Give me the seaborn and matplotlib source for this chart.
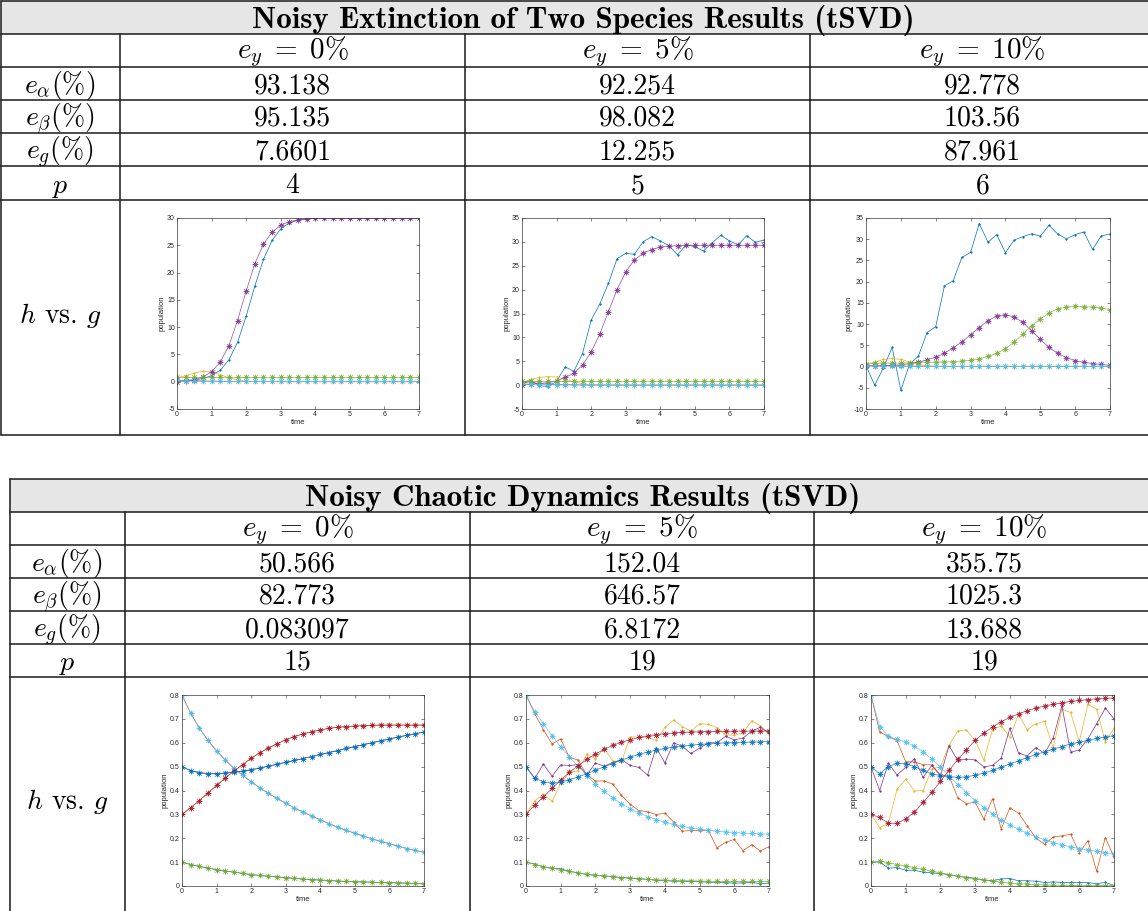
import matplotlib
matplotlib.use("Agg")
import matplotlib.pyplot as plt
import seaborn as sns
from matplotlib.patches import Rectangle

sns.set_theme(style="white")
plt.rcParams["mathtext.fontset"] = "cm"
plt.rcParams["axes.unicode_minus"] = False
plt.rcParams["font.family"] = ["Liberation Sans", "DejaVu Sans"]

# ---------------- data ----------------
t = [0.0, 0.25, 0.5, 0.75, 1.0, 1.25, 1.5, 1.75, 2.0, 2.25, 2.5, 2.75, 3.0, 3.25, 3.5,
     3.75, 4.0, 4.25, 4.5, 4.75, 5.0, 5.25, 5.5, 5.75, 6.0, 6.25, 6.5, 6.75, 7.0]

titles = ["Noisy Extinction of Two Species Results (tSVD)",
          "Noisy Chaotic Dynamics Results (tSVD)"]
noise_labels = [r"$e_y \;=\; 0\%$", r"$e_y \;=\; 5\%$", r"$e_y \;=\; 10\%$"]
row_labels = [r"$e_\alpha(\%)$", r"$e_\beta(\%)$", r"$e_g(\%)$", r"$p$"]
plot_row_label = r"$h$ vs. $g$"
ext_values = [["93.138", "92.254", "92.778"],
              ["95.135", "98.082", "103.56"],
              ["7.6601", "12.255", "87.961"],
              ["4", "5", "6"]]
chaos_values = [["50.566", "152.04", "355.75"],
                ["82.773", "646.57", "1025.3"],
                ["0.083097", "6.8172", "13.688"],
                ["15", "19", "19"]]

# Extinction, e_y = 0%
ext0_h1 = [0.1, 0.2, 0.3, 0.6, 1.1, 2.1, 4.0, 7.2, 12.0, 17.5, 22.4, 25.9, 28.0, 29.1, 29.6,
           29.85, 29.95, 30, 30, 30, 30, 30, 30, 30, 30, 30, 30, 30, 30]
ext0_h2 = [0.3, 0.25, 0.2, 0.15, 0.11, 0.08, 0.06, 0.04, 0.03, 0.02, 0.015, 0.01, 0.01, 0, 0,
           0, 0, 0, 0, 0, 0, 0, 0, 0, 0, 0, 0, 0, 0]
ext0_h3 = [0.7, 1.1, 1.6, 1.9, 1.8, 1.3, 0.7, 0.3, 0.1, 0.03, 0.01, 0, 0, 0, 0,
           0, 0, 0, 0, 0, 0, 0, 0, 0, 0, 0, 0, 0, 0]
ext0_g1 = [0.0, 0.2, 0.4, 0.9, 1.8, 3.6, 6.6, 11.2, 16.6, 21.6, 25.2, 27.4, 28.7, 29.3, 29.7,
           29.85, 29.95, 30, 30, 30, 30, 30, 30, 30, 30, 30, 30, 30, 30]
ext0_g2 = [0.8, 0.8, 0.8, 0.8, 0.8, 0.8, 0.8, 0.8, 0.8, 0.8, 0.8, 0.8, 0.8, 0.8, 0.8,
           0.8, 0.8, 0.8, 0.8, 0.8, 0.8, 0.8, 0.8, 0.8, 0.8, 0.8, 0.8, 0.8, 0.8]
ext0_g3 = [0.3, 0.15, 0.1, 0.08, 0.06, 0.05, 0.05, 0.05, 0.05, 0.05, 0.05, 0.05, 0.05, 0.05, 0.05,
           0.05, 0.05, 0.05, 0.05, 0.05, 0.05, 0.05, 0.05, 0.05, 0.05, 0.05, 0.05, 0.05, 0.05]

# Extinction, e_y = 5%
ext5_h1 = [0.3, 1.0, -0.1, -0.3, 0.8, 3.8, 2.9, 6.6, 13.6, 17.0, 21.3, 26.5, 27.6, 27.4, 30.0,
           31.1, 30.2, 29.2, 27.3, 29.4, 29.0, 28.1, 29.8, 31.4, 30.2, 29.4, 31.3, 29.9, 30.4]
ext5_h2 = [0.4, 0.7, 0.3, 0.2, 0.15, 0.1, 0.06, 0.04, 0.02, 0.01, 0, 0, 0, 0, 0,
           0, 0, 0, 0, 0, 0, 0, 0, 0, 0, 0, 0, 0, 0]
ext5_h3 = [0.5, 1.2, 1.6, 1.8, 1.7, 1.2, 0.7, 0.3, 0.1, 0.03, 0, 0, 0, 0, 0,
           0, 0, 0, 0, 0, 0, 0, 0, 0, 0, 0, 0, 0, 0]
ext5_g1 = [0.1, 0.2, 0.35, 0.5, 0.9, 1.6, 2.5, 4.2, 6.9, 10.7, 15.4, 20.0, 23.7, 26.2, 27.6,
           28.4, 28.9, 29.1, 29.2, 29.3, 29.3, 29.3, 29.3, 29.3, 29.3, 29.3, 29.3, 29.3, 29.3]
ext5_g2 = [0.9, 0.9, 0.9, 0.9, 0.9, 0.9, 0.9, 0.9, 0.9, 0.9, 0.9, 0.9, 0.9, 0.9, 0.9,
           0.9, 0.9, 0.9, 0.9, 0.9, 0.9, 0.9, 0.9, 0.9, 0.9, 0.9, 0.9, 0.9, 0.9]
ext5_g3 = [0.3, 0.2, 0.1, 0.05, 0.05, 0.05, 0.05, 0.05, 0.05, 0.05, 0.05, 0.05, 0.05, 0.05, 0.05,
           0.05, 0.05, 0.05, 0.05, 0.05, 0.05, 0.05, 0.05, 0.05, 0.05, 0.05, 0.05, 0.05, 0.05]

# Extinction, e_y = 10%
ext10_h1 = [0.2, -4.4, -0.3, 4.5, -5.6, 0.6, 2.4, 8.0, 9.4, 19.0, 20.2, 25.7, 26.9, 33.7, 29.3,
            31.1, 26.8, 29.8, 30.6, 31.3, 30.7, 33.3, 31.2, 30.1, 31.1, 31.7, 27.6, 30.8, 31.2]
ext10_h2 = [0.3, 0.25, 0.2, 0.15, 0.1, 0.07, 0.05, 0.03, 0.02, 0.01, 0, 0, 0, 0, 0,
            0, 0, 0, 0, 0, 0, 0, 0, 0, 0, 0, 0, 0, 0]
ext10_h3 = [0.6, 1.0, 1.7, 1.9, 1.7, 1.1, 0.5, 0.2, 0.05, 0, 0, 0, 0, 0, 0,
            0, 0, 0, 0, 0, 0, 0, 0, 0, 0, 0, 0, 0, 0]
ext10_g1 = [0.1, 0.15, 0.2, 0.3, 0.4, 0.7, 1.0, 1.6, 2.2, 3.1, 4.4, 5.8, 7.5, 9.2, 10.8,
            11.9, 12.2, 11.7, 10.4, 8.4, 6.4, 4.5, 3.1, 2.1, 1.4, 1.0, 0.7, 0.5, 0.3]
ext10_g2 = [0.7, 0.75, 0.8, 0.8, 0.85, 0.9, 0.95, 1.0, 1.05, 1.1, 1.15, 1.3, 1.5, 1.8, 2.4,
            3.1, 4.2, 5.8, 7.6, 9.6, 11.2, 12.6, 13.6, 14.0, 14.2, 14.1, 14.0, 13.8, 13.4]
ext10_g3 = [0.2, 0.15, 0.1, 0.1, 0.1, 0.1, 0.1, 0.1, 0.1, 0.1, 0.1, 0.1, 0.1, 0.1, 0.1,
            0.1, 0.1, 0.1, 0.1, 0.1, 0.1, 0.1, 0.1, 0.1, 0.1, 0.1, 0.1, 0.1, 0.1]

# Chaotic dynamics, e_y = 0%
ch0_g1 = [0.1, 0.09, 0.082, 0.075, 0.069, 0.063, 0.058, 0.053, 0.048, 0.044, 0.041, 0.038, 0.035, 0.032, 0.029,
          0.027, 0.025, 0.023, 0.021, 0.019, 0.018, 0.017, 0.016, 0.015, 0.014, 0.013, 0.012, 0.011, 0.01]
ch0_g2 = [0.8, 0.723, 0.662, 0.61, 0.566, 0.528, 0.493, 0.464, 0.437, 0.411, 0.388, 0.367, 0.347, 0.327, 0.31,
          0.293, 0.277, 0.261, 0.246, 0.233, 0.221, 0.209, 0.197, 0.187, 0.177, 0.167, 0.157, 0.149, 0.141]
ch0_g3 = [0.3, 0.328, 0.358, 0.39, 0.421, 0.452, 0.481, 0.508, 0.535, 0.558, 0.578, 0.596, 0.612, 0.626, 0.637,
          0.646, 0.654, 0.66, 0.665, 0.668, 0.67, 0.672, 0.673, 0.674, 0.674, 0.674, 0.674, 0.674, 0.674]
ch0_g4 = [0.5, 0.483, 0.475, 0.471, 0.47, 0.473, 0.477, 0.481, 0.487, 0.494, 0.502, 0.51, 0.518, 0.526, 0.534,
          0.542, 0.551, 0.559, 0.567, 0.576, 0.584, 0.592, 0.6, 0.608, 0.616, 0.624, 0.631, 0.638, 0.645]
ch0_h1 = [0.1, 0.09, 0.082, 0.075, 0.069, 0.063, 0.058, 0.053, 0.048, 0.044, 0.041, 0.038, 0.035, 0.032, 0.029,
          0.027, 0.025, 0.023, 0.021, 0.019, 0.018, 0.017, 0.016, 0.015, 0.014, 0.013, 0.012, 0.011, 0.01]
ch0_h2 = [0.8, 0.723, 0.662, 0.61, 0.566, 0.528, 0.493, 0.464, 0.437, 0.411, 0.388, 0.367, 0.347, 0.327, 0.31,
          0.293, 0.277, 0.261, 0.246, 0.233, 0.221, 0.209, 0.197, 0.187, 0.177, 0.167, 0.157, 0.149, 0.141]
ch0_h3 = [0.3, 0.328, 0.358, 0.39, 0.421, 0.452, 0.481, 0.508, 0.535, 0.558, 0.578, 0.596, 0.612, 0.626, 0.637,
          0.646, 0.654, 0.66, 0.665, 0.668, 0.67, 0.672, 0.673, 0.674, 0.674, 0.674, 0.674, 0.674, 0.674]
ch0_h4 = [0.5, 0.483, 0.475, 0.471, 0.47, 0.473, 0.477, 0.481, 0.487, 0.494, 0.502, 0.51, 0.518, 0.526, 0.534,
          0.542, 0.551, 0.559, 0.567, 0.576, 0.584, 0.592, 0.6, 0.608, 0.616, 0.624, 0.631, 0.638, 0.645]

# Chaotic dynamics, e_y = 5%
ch5_h1 = [0.1, 0.092, 0.08, 0.075, 0.072, 0.062, 0.055, 0.048, 0.044, 0.042, 0.04, 0.035, 0.034, 0.031, 0.028,
          0.024, 0.022, 0.02, 0.02, 0.019, 0.018, 0.016, 0.015, 0.014, 0.012, 0.013, 0.015, 0.01, 0.012]
ch5_h2 = [0.8, 0.722, 0.655, 0.595, 0.616, 0.538, 0.528, 0.465, 0.44, 0.44, 0.427, 0.38, 0.342, 0.316, 0.311,
          0.299, 0.305, 0.268, 0.23, 0.232, 0.232, 0.234, 0.16, 0.183, 0.195, 0.148, 0.173, 0.147, 0.165]
ch5_h3 = [0.3, 0.357, 0.385, 0.355, 0.43, 0.475, 0.483, 0.552, 0.532, 0.577, 0.524, 0.52, 0.625, 0.623, 0.622,
          0.61, 0.664, 0.695, 0.668, 0.648, 0.68, 0.677, 0.663, 0.632, 0.632, 0.64, 0.692, 0.672, 0.635]
ch5_h4 = [0.5, 0.45, 0.511, 0.46, 0.507, 0.505, 0.508, 0.465, 0.515, 0.502, 0.517, 0.53, 0.505, 0.497, 0.464,
          0.58, 0.515, 0.6, 0.585, 0.555, 0.577, 0.6, 0.6, 0.627, 0.612, 0.62, 0.648, 0.665, 0.64]
ch5_g1 = [0.1, 0.09, 0.081, 0.074, 0.067, 0.061, 0.055, 0.05, 0.046, 0.042, 0.038, 0.035, 0.032, 0.03, 0.028,
          0.026, 0.025, 0.024, 0.023, 0.022, 0.021, 0.02, 0.02, 0.019, 0.019, 0.019, 0.019, 0.019, 0.019]
ch5_g2 = [0.8, 0.73, 0.68, 0.63, 0.583, 0.54, 0.502, 0.462, 0.426, 0.396, 0.368, 0.344, 0.324, 0.306, 0.291,
          0.278, 0.267, 0.258, 0.25, 0.243, 0.238, 0.234, 0.23, 0.227, 0.224, 0.222, 0.22, 0.218, 0.217]
ch5_g3 = [0.3, 0.338, 0.373, 0.409, 0.444, 0.476, 0.504, 0.53, 0.553, 0.572, 0.589, 0.602, 0.613, 0.622, 0.629,
          0.634, 0.638, 0.641, 0.643, 0.645, 0.646, 0.647, 0.648, 0.648, 0.649, 0.649, 0.649, 0.649, 0.65]
ch5_g4 = [0.5, 0.452, 0.436, 0.432, 0.436, 0.445, 0.457, 0.47, 0.485, 0.499, 0.513, 0.527, 0.54, 0.551, 0.561,
          0.569, 0.576, 0.582, 0.586, 0.59, 0.593, 0.596, 0.598, 0.6, 0.601, 0.602, 0.603, 0.604, 0.605]

# Chaotic dynamics, e_y = 10%
ch10_h1 = [0.1, 0.1, 0.075, 0.077, 0.066, 0.066, 0.058, 0.055, 0.052, 0.048, 0.04, 0.037, 0.032, 0.025, 0.022,
           0.03, 0.031, 0.022, 0.022, 0.02, 0.015, 0.017, 0.015, 0.015, 0.015, 0.014, 0.01, 0.015, 0.002]
ch10_h2 = [0.8, 0.645, 0.626, 0.609, 0.52, 0.52, 0.508, 0.507, 0.466, 0.46, 0.37, 0.345, 0.351, 0.28, 0.366,
           0.24, 0.327, 0.305, 0.253, 0.2, 0.175, 0.205, 0.21, 0.217, 0.14, 0.19, 0.062, 0.203, 0.12]
ch10_h3 = [0.3, 0.245, 0.262, 0.405, 0.448, 0.398, 0.4, 0.49, 0.5, 0.59, 0.65, 0.653, 0.61, 0.528, 0.655,
           0.67, 0.625, 0.718, 0.655, 0.68, 0.69, 0.578, 0.74, 0.727, 0.605, 0.762, 0.74, 0.604, 0.66]
ch10_h4 = [0.5, 0.4, 0.515, 0.465, 0.497, 0.533, 0.455, 0.505, 0.462, 0.588, 0.525, 0.532, 0.528, 0.499, 0.505,
           0.535, 0.66, 0.557, 0.545, 0.58, 0.555, 0.62, 0.755, 0.56, 0.57, 0.617, 0.68, 0.745, 0.7]
ch10_g1 = [0.1, 0.105, 0.097, 0.09, 0.084, 0.077, 0.07, 0.062, 0.055, 0.048, 0.041, 0.035, 0.03, 0.024, 0.02,
           0.016, 0.012, 0.01, 0.008, 0.006, 0.005, 0.004, 0.003, 0.003, 0.002, 0.002, 0.002, 0.002, 0.002]
ch10_g2 = [0.8, 0.668, 0.627, 0.614, 0.603, 0.585, 0.563, 0.532, 0.499, 0.46, 0.425, 0.39, 0.358, 0.328, 0.3,
           0.276, 0.256, 0.237, 0.22, 0.206, 0.193, 0.182, 0.172, 0.164, 0.157, 0.151, 0.145, 0.14, 0.136]
ch10_g3 = [0.3, 0.287, 0.263, 0.263, 0.281, 0.31, 0.35, 0.392, 0.438, 0.485, 0.53, 0.571, 0.61, 0.64, 0.666,
           0.688, 0.706, 0.721, 0.734, 0.745, 0.754, 0.761, 0.767, 0.773, 0.777, 0.781, 0.784, 0.786, 0.788]
ch10_g4 = [0.5, 0.47, 0.5, 0.514, 0.512, 0.5, 0.484, 0.47, 0.462, 0.458, 0.455, 0.457, 0.464, 0.473, 0.484,
           0.497, 0.511, 0.524, 0.538, 0.551, 0.562, 0.573, 0.584, 0.595, 0.602, 0.61, 0.618, 0.624, 0.63]

ext_ylims = [(-5, 30), (-5, 35), (-10, 35)]
ext_yticks = [[-5, 0, 5, 10, 15, 20, 25, 30],
              [-5, 0, 5, 10, 15, 20, 25, 30, 35],
              [-10, -5, 0, 5, 10, 15, 20, 25, 30, 35]]
ch_yticks = [0, 0.1, 0.2, 0.3, 0.4, 0.5, 0.6, 0.7, 0.8]
ch_yticklabels = ["0", "0.1", "0.2", "0.3", "0.4", "0.5", "0.6", "0.7", "0.8"]
xticks = [0, 1, 2, 3, 4, 5, 6, 7]

# MATLAB default colour order
C = ["#0072BD", "#D95319", "#EDB120", "#7E2F8E", "#77AC30", "#4DBEEE", "#A2142F"]

W, H = 1148, 911
fig = plt.figure(figsize=(W / 100, H / 100), dpi=100)
fig.patch.set_facecolor("white")

bg = fig.add_axes([0, 0, 1, 1])
bg.set_xlim(0, W)
bg.set_ylim(H, 0)
bg.axis("off")

LC = "#1a1a1a"
FS = 20


def draw_table(left, colx, rowy, bottom, title, values, label_x):
    right = 1165
    bg.add_patch(Rectangle((left, rowy[0]), right - left, rowy[1] - rowy[0],
                           facecolor="#e6e6e6", edgecolor="none", zorder=0))
    for y in list(rowy) + [bottom]:
        bg.plot([left, right], [y, y], color=LC, lw=1.1, zorder=2)
    bg.plot([left, left], [rowy[0], bottom], color=LC, lw=1.1, zorder=2)
    for x in colx:
        bg.plot([x, x], [rowy[1], bottom], color=LC, lw=1.1, zorder=2)
    centers = [(colx[0] + colx[1]) / 2, (colx[1] + colx[2]) / 2, (colx[2] + right - 10) / 2]
    bg.text(583, rowy[1] - 6, title, ha="center", va="baseline", fontsize=22.3,
            family="cmb10", color="black")
    for j, lab in enumerate(noise_labels):
        bg.text(centers[j], rowy[2] - 9, lab, ha="center", va="baseline", fontsize=FS + 1,
                color="black")
    for i, lab in enumerate(row_labels):
        bg.text(label_x, rowy[3 + i] - 7, lab, ha="center", va="baseline", fontsize=FS,
                color="black")
        for j in range(3):
            bg.text(centers[j], rowy[3 + i] - 7, values[i][j], ha="center", va="baseline",
                    fontsize=FS, family="cmr10", color="black")
    bg.text(label_x, (rowy[-1] + bottom) / 2 + 6, plot_row_label, ha="center", va="baseline",
            fontsize=FS, family="cmr10", color="black")


draw_table(0.5, [120, 465, 810], [1, 34, 67, 100, 133, 166, 200], 435,
           titles[0], ext_values, 60)
draw_table(10, [125, 470, 814], [479, 512, 545, 578, 611, 644, 677], 930,
           titles[1], chaos_values, 67)


def add_ax(l, r, top, bot):
    ax = fig.add_axes([l / W, 1 - bot / H, (r - l) / W, (bot - top) / H])
    ax.set_facecolor("white")
    for sp in ax.spines.values():
        sp.set_color("#3a3a3a")
        sp.set_linewidth(0.5)
    ax.tick_params(direction="in", length=2, width=0.4, labelsize=5, colors="#262626",
                   pad=1.5, top=True, right=True, bottom=True, left=True)
    ax.set_xlim(0, 7)
    ax.set_xticks(xticks)
    ax.set_xlabel("time", fontsize=5.5, labelpad=1, color="#262626")
    ax.set_ylabel("population", fontsize=5.5, labelpad=1, color="#262626")
    ax.grid(False)
    return ax


def draw_series(ax, data_list, fit_list):
    k = 0
    for y in data_list:
        c = C[k % 7]
        sns.lineplot(x=t, y=y, ax=ax, color=c, marker=".", markersize=2.5,
                     markeredgecolor=c, markerfacecolor=c, markeredgewidth=0.3,
                     linewidth=0.5, legend=False, sort=False, errorbar=None)
        k += 1
    for y in fit_list:
        c = C[k % 7]
        sns.lineplot(x=t, y=y, ax=ax, color=c, marker=(8, 2, 0), markersize=4,
                     markeredgecolor=c, markerfacecolor=c, markeredgewidth=0.5,
                     linewidth=0.5, legend=False, sort=False, errorbar=None, alpha=0.85)
        k += 1


ext_boxes = [(177, 419), (522, 764), (866, 1110)]
ext_data = [[ext0_h1, ext0_h2, ext0_h3], [ext5_h1, ext5_h2, ext5_h3], [ext10_h1, ext10_h2, ext10_h3]]
ext_fits = [[ext0_g1, ext0_g2, ext0_g3], [ext5_g1, ext5_g2, ext5_g3], [ext10_g1, ext10_g2, ext10_g3]]
for i, (l, r) in enumerate(ext_boxes):
    ax = add_ax(l, r, 218, 409)
    draw_series(ax, ext_data[i], ext_fits[i])
    ax.set_ylim(*ext_ylims[i])
    ax.set_yticks(ext_yticks[i])

ch_boxes = [(182, 424), (526, 769), (871, 1114)]
ch_data = [[ch0_h1, ch0_h2, ch0_h3, ch0_h4], [ch5_h1, ch5_h2, ch5_h3, ch5_h4],
           [ch10_h1, ch10_h2, ch10_h3, ch10_h4]]
ch_fits = [[ch0_g1, ch0_g2, ch0_g3, ch0_g4], [ch5_g1, ch5_g2, ch5_g3, ch5_g4],
           [ch10_g1, ch10_g2, ch10_g3, ch10_g4]]
for i, (l, r) in enumerate(ch_boxes):
    ax = add_ax(l, r, 695, 886)
    draw_series(ax, ch_data[i], ch_fits[i])
    ax.set_ylim(0, 0.8)
    ax.set_yticks(ch_yticks)
    ax.set_yticklabels(ch_yticklabels)

fig.savefig("out.png", dpi=100, facecolor="white")
